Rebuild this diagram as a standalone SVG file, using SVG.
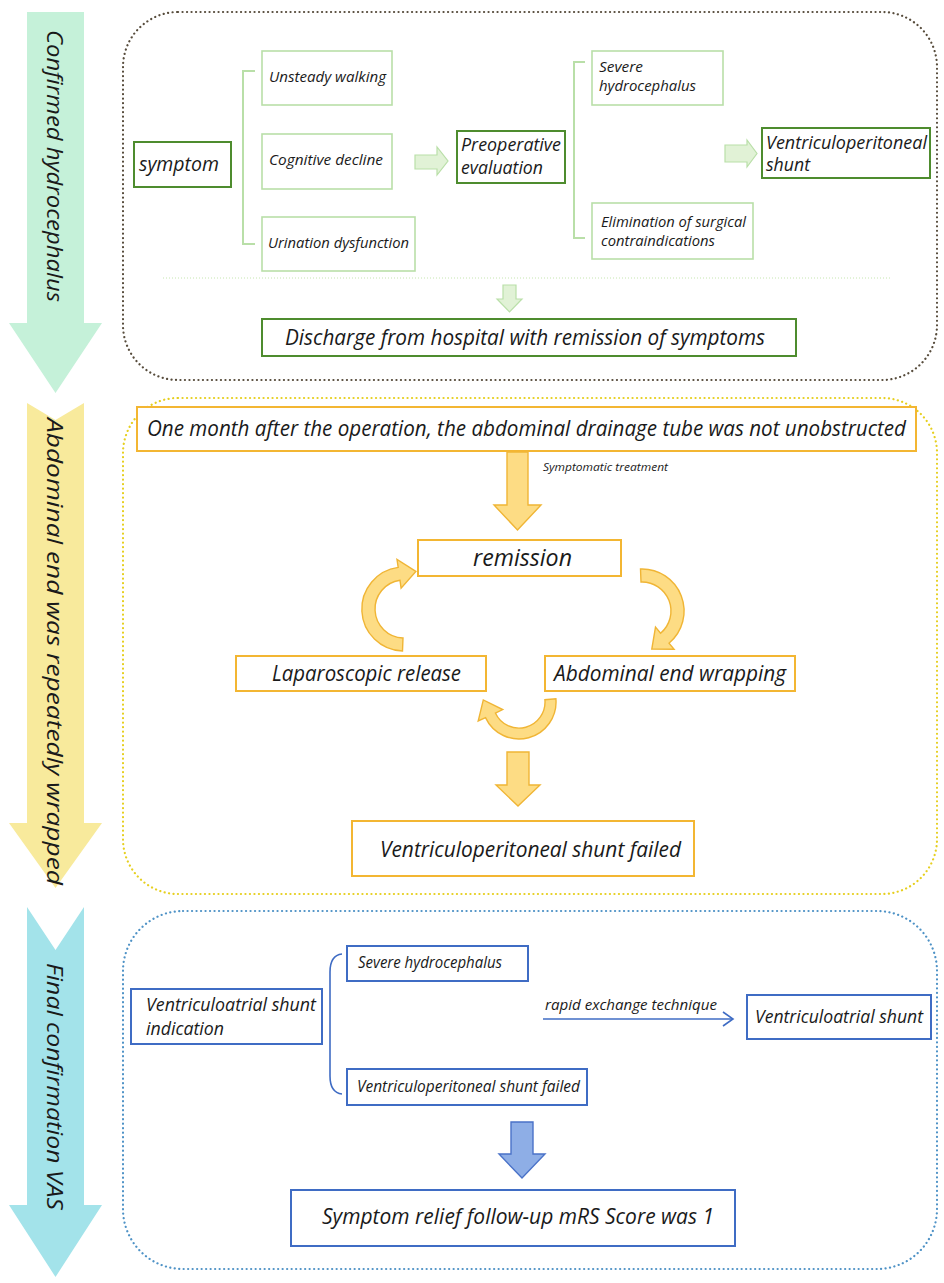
<svg xmlns="http://www.w3.org/2000/svg" width="944" height="1283" viewBox="0 0 944 1283">
<style>
text{font-family:"Open Sans","Noto Sans","DejaVu Sans",sans-serif;font-style:italic;fill:#1a1a1a}
.panel{fill:none;stroke-width:2.2;stroke-dasharray:0.1 4.4;stroke-linecap:round}
.dg{fill:#fff;stroke:#4e8c2e;stroke-width:2}
.lg{fill:#fff;stroke:#b9dfa8;stroke-width:1.6}
.yb{fill:#fff;stroke:#f3b632;stroke-width:2}
.bb{fill:#fff;stroke:#3f6cc4;stroke-width:2}
.garr{fill:#e1f2d6;stroke:#b9dfa8;stroke-width:1.2}
.yarr{fill:#fddc84;stroke:#f0b535;stroke-width:1.4}
.barr{fill:#8eaee6;stroke:#4a72c8;stroke-width:1.4}
</style>

<!-- left phase arrows -->
<g id="phase1">
<polygon points="27,12 84,12 84,323 102,323 55.5,393 9,323 27,323" fill="#c5f1d9"/>
<text transform="translate(47,30) rotate(90)" font-size="22" textLength="272" lengthAdjust="spacingAndGlyphs">Confirmed hydrocephalus</text>
</g>
<g id="phase2">
<polygon points="27,403 55.5,420 84,403 84,823 102,823 55.5,888 9,823 27,823" fill="#f8ea9c"/>
<text transform="translate(47,418) rotate(90)" font-size="22" textLength="467" lengthAdjust="spacingAndGlyphs">Abdominal end was repeatedly wrapped</text>
</g>
<g id="phase3">
<polygon points="27,907 55.5,950 84,907 84,1205 102,1205 55.5,1277 9,1205 27,1205" fill="#a3e3ea"/>
<text transform="translate(47,963) rotate(90)" font-size="22" textLength="247" lengthAdjust="spacingAndGlyphs">Final confirmation VAS</text>
</g>

<!-- panels -->
<g id="panels">
<rect class="panel" x="123" y="12" width="814" height="368" rx="55" stroke="#574c3c"/>
<rect class="panel" x="123" y="398" width="814" height="496" rx="55" stroke="#e6cf1f"/>
<rect class="panel" x="123" y="911" width="814" height="358" rx="60" stroke="#4e92c6"/>
</g>

<!-- connectors -->
<g id="connectors">
<path d="M255,71 H243 V244 H255" fill="none" stroke="#b9dfa8" stroke-width="2"/>
<path d="M585,62 H574 V238 H585" fill="none" stroke="#b9dfa8" stroke-width="2"/>
<polygon class="garr" points="415,155 437,155 437,147 448,161 437,175 437,169 415,169"/>
<polygon class="garr" points="725,145 747,145 747,140 757,153.5 747,167 747,162 725,162"/>
<line x1="163" y1="278" x2="890" y2="278" stroke="#c5e6b0" stroke-width="1" stroke-dasharray="1 2"/>
<polygon class="garr" points="503,285 516,285 516,299 522,299 509.5,312 497,299 503,299"/>

<polygon class="yarr" points="507,452 528,452 528,505 541,505 517.5,530 494,505 507,505"/>
<text x="543" y="471" font-size="11" textLength="125" lengthAdjust="spacingAndGlyphs">Symptomatic treatment</text>
<path class="yarr" d="M402.5,651.0 A42,42 0 0 1 398.2,567.4 L397.0,559.5 L415.9,571.4 L401.1,588.2 L400.0,580.3 A29,29 0 0 0 403.0,638.0 Z"/>
<path class="yarr" d="M640.5,569.0 A42,42 0 0 1 669.0,643.2 L674.1,649.3 L651.8,649.1 L655.5,627.1 L660.6,633.2 A29,29 0 0 0 641.0,582.0 Z"/>
<path class="yarr" d="M555.9,698.8 A37,37 0 0 1 485.5,717.6 L478.2,721.0 L483.3,699.9 L502.7,709.6 L495.4,713.0 A26,26 0 0 0 544.9,699.7 Z"/>
<polygon class="yarr" points="507,752 529,752 529,785 540,785 518,806 496,785 507,785"/>

<path d="M342,954 C333,955 330,962 330,972 V1076 C330,1086 333,1093 342,1094" fill="none" stroke="#3f6cc4" stroke-width="1.6"/>
<line x1="543" y1="1019" x2="733" y2="1019" stroke="#3f6cc4" stroke-width="1.6"/>
<polyline points="723,1012 733,1019 723,1026" fill="none" stroke="#3f6cc4" stroke-width="1.6"/>
<text x="545" y="1010" font-size="15" textLength="172" lengthAdjust="spacingAndGlyphs">rapid exchange technique</text>
<polygon class="barr" points="511,1122 533,1122 533,1154 545,1154 522,1178 499,1154 511,1154"/>
</g>

<!-- panel 1 nodes -->
<g id="symptom"><rect class="dg" x="134" y="142" width="97" height="45"/><text x="139" y="171" font-size="20" textLength="80" lengthAdjust="spacingAndGlyphs">symptom</text></g>
<g id="unsteady"><rect class="lg" x="262" y="51" width="130" height="54"/><text x="269" y="82" font-size="14.5" textLength="117" lengthAdjust="spacingAndGlyphs">Unsteady walking</text></g>
<g id="cognitive"><rect class="lg" x="262" y="134" width="130" height="55"/><text x="269" y="165" font-size="14.5" textLength="114" lengthAdjust="spacingAndGlyphs">Cognitive decline</text></g>
<g id="urination"><rect class="lg" x="262" y="217" width="153" height="54"/><text x="268" y="248" font-size="14.5" textLength="141" lengthAdjust="spacingAndGlyphs">Urination dysfunction</text></g>
<g id="preop"><rect class="dg" x="457" y="131" width="108" height="52"/><text x="461" y="151" font-size="17.5" textLength="100" lengthAdjust="spacingAndGlyphs">Preoperative</text><text x="461" y="174" font-size="17.5" textLength="82" lengthAdjust="spacingAndGlyphs">evaluation</text></g>
<g id="severe1"><rect class="lg" x="592" y="51" width="131" height="54"/><text x="599" y="72" font-size="14.5" textLength="44" lengthAdjust="spacingAndGlyphs">Severe</text><text x="599" y="91" font-size="14.5" textLength="97" lengthAdjust="spacingAndGlyphs">hydrocephalus</text></g>
<g id="elimination"><rect class="lg" x="592" y="203" width="161" height="56"/><text x="601" y="227" font-size="14" textLength="145" lengthAdjust="spacingAndGlyphs">Elimination of surgical</text><text x="601" y="246" font-size="14" textLength="114" lengthAdjust="spacingAndGlyphs">contraindications</text></g>
<g id="vpshunt"><rect class="dg" x="762" y="128" width="168" height="50"/><text x="766" y="149" font-size="18" textLength="161" lengthAdjust="spacingAndGlyphs">Ventriculoperitoneal</text><text x="766" y="171" font-size="18" textLength="44" lengthAdjust="spacingAndGlyphs">shunt</text></g>
<g id="discharge"><rect class="dg" x="262" y="319" width="534" height="37"/><text x="285" y="345" font-size="21" textLength="480" lengthAdjust="spacingAndGlyphs">Discharge from hospital with remission of symptoms</text></g>

<!-- panel 2 nodes -->
<g id="onemonth"><rect class="yb" x="137" y="407" width="779" height="44"/><text x="147" y="436" font-size="21.5" textLength="759" lengthAdjust="spacingAndGlyphs">One month after the operation, the abdominal drainage tube was not unobstructed</text></g>
<g id="remission"><rect class="yb" x="418" y="540" width="203" height="36"/><text x="473" y="566" font-size="24" textLength="99" lengthAdjust="spacingAndGlyphs">remission</text></g>
<g id="laparoscopic"><rect class="yb" x="236" y="656" width="250" height="35"/><text x="272" y="681" font-size="21" textLength="189" lengthAdjust="spacingAndGlyphs">Laparoscopic release</text></g>
<g id="wrapping"><rect class="yb" x="545" y="656" width="250" height="35"/><text x="554" y="681" font-size="21" textLength="232" lengthAdjust="spacingAndGlyphs">Abdominal end wrapping</text></g>
<g id="vpfailed"><rect class="yb" x="352" y="821" width="342" height="55"/><text x="380" y="857" font-size="22" textLength="301" lengthAdjust="spacingAndGlyphs">Ventriculoperitoneal shunt failed</text></g>

<!-- panel 3 nodes -->
<g id="vaindication"><rect class="bb" x="131" y="989" width="191" height="55"/><text x="146" y="1011" font-size="19" textLength="170" lengthAdjust="spacingAndGlyphs">Ventriculoatrial shunt</text><text x="146" y="1035" font-size="19" textLength="78" lengthAdjust="spacingAndGlyphs">indication</text></g>
<g id="severe2"><rect class="bb" x="347" y="946" width="181" height="35"/><text x="358" y="968" font-size="16" textLength="144" lengthAdjust="spacingAndGlyphs">Severe hydrocephalus</text></g>
<g id="vpfailed2"><rect class="bb" x="347" y="1069" width="240" height="36"/><text x="357" y="1092" font-size="16" textLength="223" lengthAdjust="spacingAndGlyphs">Ventriculoperitoneal shunt failed</text></g>
<g id="vashunt"><rect class="bb" x="747" y="995" width="184" height="44"/><text x="755" y="1023" font-size="19" textLength="168" lengthAdjust="spacingAndGlyphs">Ventriculoatrial shunt</text></g>
<g id="relief"><rect class="bb" x="291" y="1190" width="444" height="56"/><text x="322" y="1224" font-size="22" textLength="392" lengthAdjust="spacingAndGlyphs">Symptom relief follow-up mRS Score was 1</text></g>
</svg>
